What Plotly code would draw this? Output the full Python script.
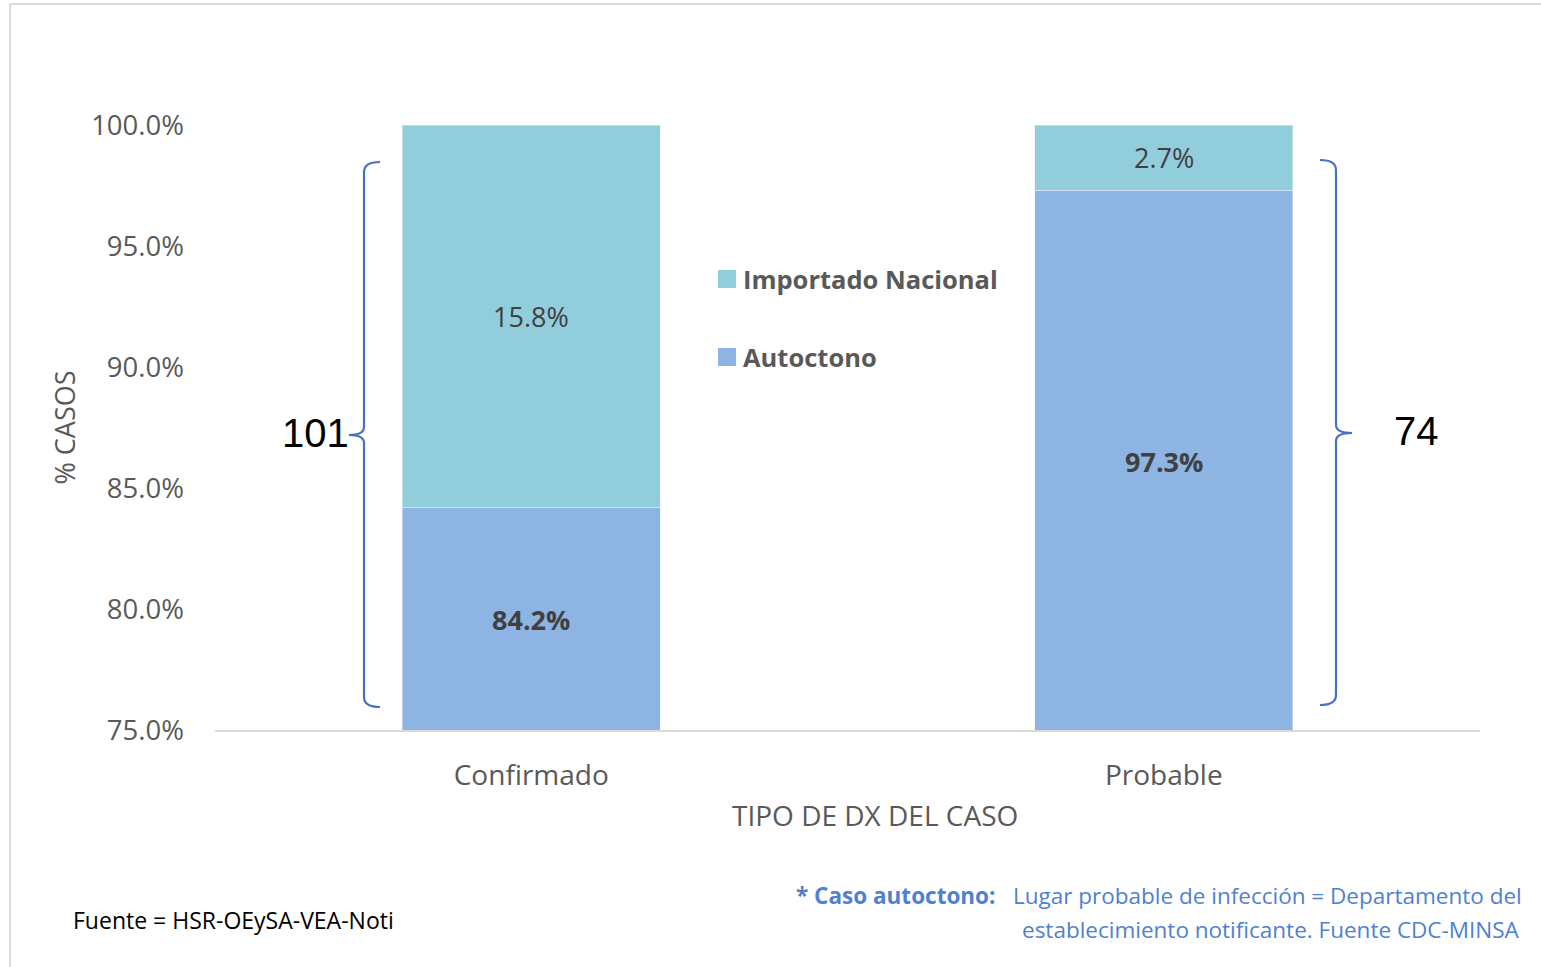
import plotly.graph_objects as go

categories = ["Confirmado", "Probable"]
autoctono = [0.842, 0.973]
importado = [0.158, 0.027]
totals = [101, 74]
series_names = ["Autoctono", "Importado Nacional"]
y_ticks = [0.75, 0.80, 0.85, 0.90, 0.95, 1.00]

W, H = 1541, 967
L, R, T, B = 215, 61, 125, 237
PW, PH = W - L - R, H - T - B
YMIN, YMAX = 0.75, 1.0

def px(x):
    return (x - L) / PW

def py(y):
    return (H - B - y) / PH

FONT = "Open Sans"
GRAY = "#595959"
LBL = "#404040"
C_AUT = "#8EB4E3"
C_IMP = "#92CDDC"
BLUE = "#4472C4"
colors = [C_AUT, C_IMP]

fig = go.Figure()
fig.add_trace(go.Bar(x=categories, y=autoctono, name=series_names[0], marker_color=C_AUT,
                     textposition="none", showlegend=False))
fig.add_trace(go.Bar(x=categories, y=importado, name=series_names[1], marker_color=C_IMP,
                     textposition="none", showlegend=False))

# data labels at the middle of the visible part of each segment
aut_mid = [(YMIN + a) / 2 for a in autoctono]
imp_mid = [a + i / 2 for a, i in zip(autoctono, importado)]
for c, ym, v in zip(categories, aut_mid, autoctono):
    fig.add_annotation(x=c, y=ym, text=f"<b>{v*100:.1f}%</b>", showarrow=False, yshift=-1,
                       font=dict(size=27, color=LBL, family=FONT))
for c, ym, v in zip(categories, imp_mid, importado):
    fig.add_annotation(x=c, y=ym, text=f"{v*100:.1f}%", showarrow=False, yshift=0,
                       font=dict(size=27, color=LBL, family=FONT))

fig.update_layout(
    width=W, height=H,
    margin=dict(l=L, r=R, t=T, b=B, autoexpand=False),
    barmode="stack", bargap=0.592,
    plot_bgcolor="white", paper_bgcolor="white",
    font=dict(family=FONT, color=GRAY),
    showlegend=False,
    xaxis=dict(showgrid=False, showline=True, linecolor="#D9D9D9", linewidth=2,
               ticks="", tickfont=dict(size=28, color=GRAY), ticklabelstandoff=19),
    yaxis=dict(range=[YMIN, YMAX], tickvals=y_ticks, tickformat=".1%", showgrid=False,
               showline=False, zeroline=False, ticks="",
               tickfont=dict(size=27.5, color=GRAY), ticklabelstandoff=30,
               title=dict(text="% CASOS", font=dict(size=27, color=GRAY), standoff=7)),
)

# x-axis title (offset to the right as in the original)
fig.add_annotation(x=px(875), y=py(815), xref="paper", yref="paper", text="TIPO DE DX DEL CASO",
                   showarrow=False, xanchor="center", yanchor="middle",
                   font=dict(size=28, color=GRAY, family=FONT))

# custom legend (Importado on top, Autoctono below)
legend_rows = [(series_names[1], colors[1], 279), (series_names[0], colors[0], 357)]
for name, col, yc in legend_rows:
    fig.add_shape(type="rect", xref="paper", yref="paper",
                  x0=px(718), x1=px(736), y0=py(yc - 9), y1=py(yc + 9),
                  fillcolor=col, line=dict(width=0))
    fig.add_annotation(x=px(741), y=py(yc), xref="paper", yref="paper", text=f"<b>{name}</b>",
                       showarrow=False, xanchor="left", yanchor="middle",
                       font=dict(size=25.5, color=GRAY, family=FONT))

# braces
def brace(xe, xs, xt, y0, y1, ym):
    return (f"M{px(xe)},{py(y0)} Q{px(xs)},{py(y0)} {px(xs)},{py(y0+10)} "
            f"L{px(xs)},{py(ym-8)} Q{px(xs)},{py(ym)} {px(xt)},{py(ym)} "
            f"Q{px(xs)},{py(ym)} {px(xs)},{py(ym+8)} "
            f"L{px(xs)},{py(y1-10)} Q{px(xs)},{py(y1)} {px(xe)},{py(y1)}")

fig.add_shape(type="path", xref="paper", yref="paper",
              path=brace(380, 364, 349, 162, 707, 435),
              line=dict(color=BLUE, width=2.2))
fig.add_shape(type="path", xref="paper", yref="paper",
              path=brace(1320, 1336, 1352, 160, 705, 433),
              line=dict(color=BLUE, width=2.2))

fig.add_annotation(x=px(351), y=py(433), xref="paper", yref="paper", text=str(totals[0]),
                   showarrow=False, xanchor="right", yanchor="middle",
                   font=dict(size=40, color="black", family="Liberation Sans"))
fig.add_annotation(x=px(1392), y=py(431), xref="paper", yref="paper", text=str(totals[1]),
                   showarrow=False, xanchor="left", yanchor="middle",
                   font=dict(size=40, color="black", family="Liberation Sans"))

# footnotes
fig.add_annotation(x=px(71), y=py(920), xref="paper", yref="paper",
                   text="Fuente = HSR-OEySA-VEA-Noti", showarrow=False,
                   xanchor="left", yanchor="middle", font=dict(size=23, color="black", family=FONT))
fig.add_annotation(x=px(1524), y=py(895), xref="paper", yref="paper",
                   text="<b>* Caso autoctono:</b>   Lugar probable de infección = Departamento del",
                   showarrow=False, xanchor="right", yanchor="middle",
                   font=dict(size=22.5, color="#4F81D0", family=FONT))
fig.add_annotation(x=px(1522), y=py(929), xref="paper", yref="paper",
                   text="establecimiento notificante. Fuente CDC-MINSA",
                   showarrow=False, xanchor="right", yanchor="middle",
                   font=dict(size=22.5, color="#4F81D0", family=FONT))

# chart border (top and left)
fig.add_shape(type="line", xref="paper", yref="paper", x0=px(10), x1=px(1545), y0=py(4), y1=py(4),
              line=dict(color="#D9D9D9", width=2))
fig.add_shape(type="line", xref="paper", yref="paper", x0=px(10), x1=px(10), y0=py(4), y1=py(970),
              line=dict(color="#D9D9D9", width=2))

fig.write_html("out.html", config={"displayModeBar": False},
               post_script="document.body.style.margin='0';")
